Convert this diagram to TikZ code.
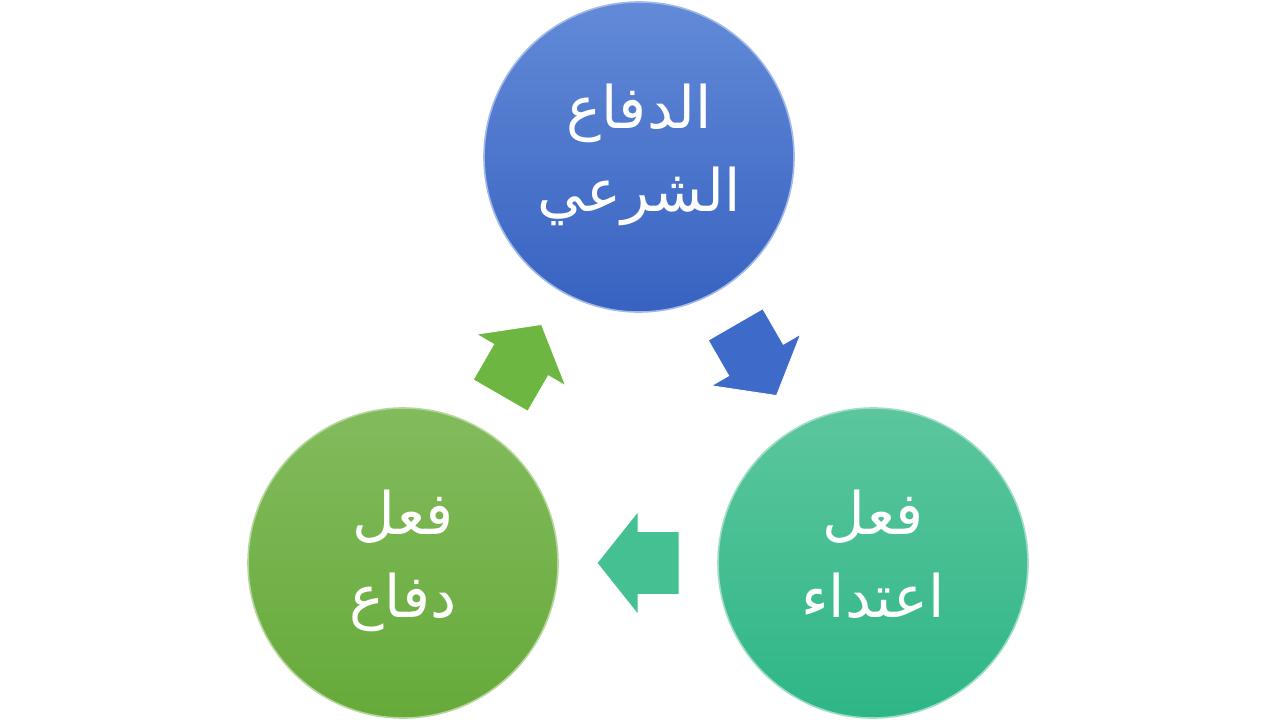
\documentclass[tikz,border=0pt]{standalone}
\usepackage{fontspec}
\newfontfamily\arabicfont[Script=Arabic]{DejaVu Sans}
\TeXXeTstate=1
\usetikzlibrary{calc}

\definecolor{blueTop}{RGB}{98,138,216}
\definecolor{blueBot}{RGB}{55,98,192}
\definecolor{tealTop}{RGB}{92,198,158}
\definecolor{tealBot}{RGB}{46,182,134}
\definecolor{greenTop}{RGB}{130,187,92}
\definecolor{greenBot}{RGB}{102,170,58}
\definecolor{blueArr}{RGB}{62,106,202}
\definecolor{tealArr}{RGB}{68,192,146}
\definecolor{greenArr}{RGB}{110,182,66}

\tikzset{
  disc/.style={circle, minimum size=232.5pt, inner sep=0pt, align=center,
    text=white, line width=1.2pt, text depth=14pt,
    font=\arabicfont\fontsize{44}{62}\selectfont},
  blockarr/.style={draw=white, line width=0.6pt}
}

\begin{document}
\begin{tikzpicture}[x=0.75pt,y=0.75pt,yscale=-1,xscale=1]
\useasboundingbox (0,0) rectangle (1280,720);

%Circles
\node [disc, top color=blueTop, bottom color=blueBot, draw=blueTop!60!white] (difaa) at (639,157) {\beginR الدفاع\endR\\\beginR الشرعي\endR};
\node [disc, top color=tealTop, bottom color=tealBot, draw=tealTop!60!white] (iitidaa) at (873,563) {\beginR فعل\endR\\\beginR اعتداء\endR};
\node [disc, top color=greenTop, bottom color=greenBot, draw=greenTop!60!white] (fiildifaa) at (403,563) {\beginR فعل\endR\\\beginR دفاع\endR};

%Block arrows
\draw [blockarr, fill=blueArr, shift={($(difaa)!0.5!(iitidaa)$)}, rotate=60] (-41,-31.5) -- (0,-31.5) -- (0,-51.5) -- (41,0) -- (0,51.5) -- (0,31.5) -- (-41,31.5) -- cycle;
\draw [blockarr, fill=tealArr, shift={($(iitidaa)!0.5!(fiildifaa)$)}, rotate=180] (-41,-31.5) -- (0,-31.5) -- (0,-51.5) -- (41,0) -- (0,51.5) -- (0,31.5) -- (-41,31.5) -- cycle;
\draw [blockarr, fill=greenArr, shift={($(fiildifaa)!0.5!(difaa)$)}, rotate=-60] (-41,-31.5) -- (0,-31.5) -- (0,-51.5) -- (41,0) -- (0,51.5) -- (0,31.5) -- (-41,31.5) -- cycle;

\end{tikzpicture}
\end{document}
